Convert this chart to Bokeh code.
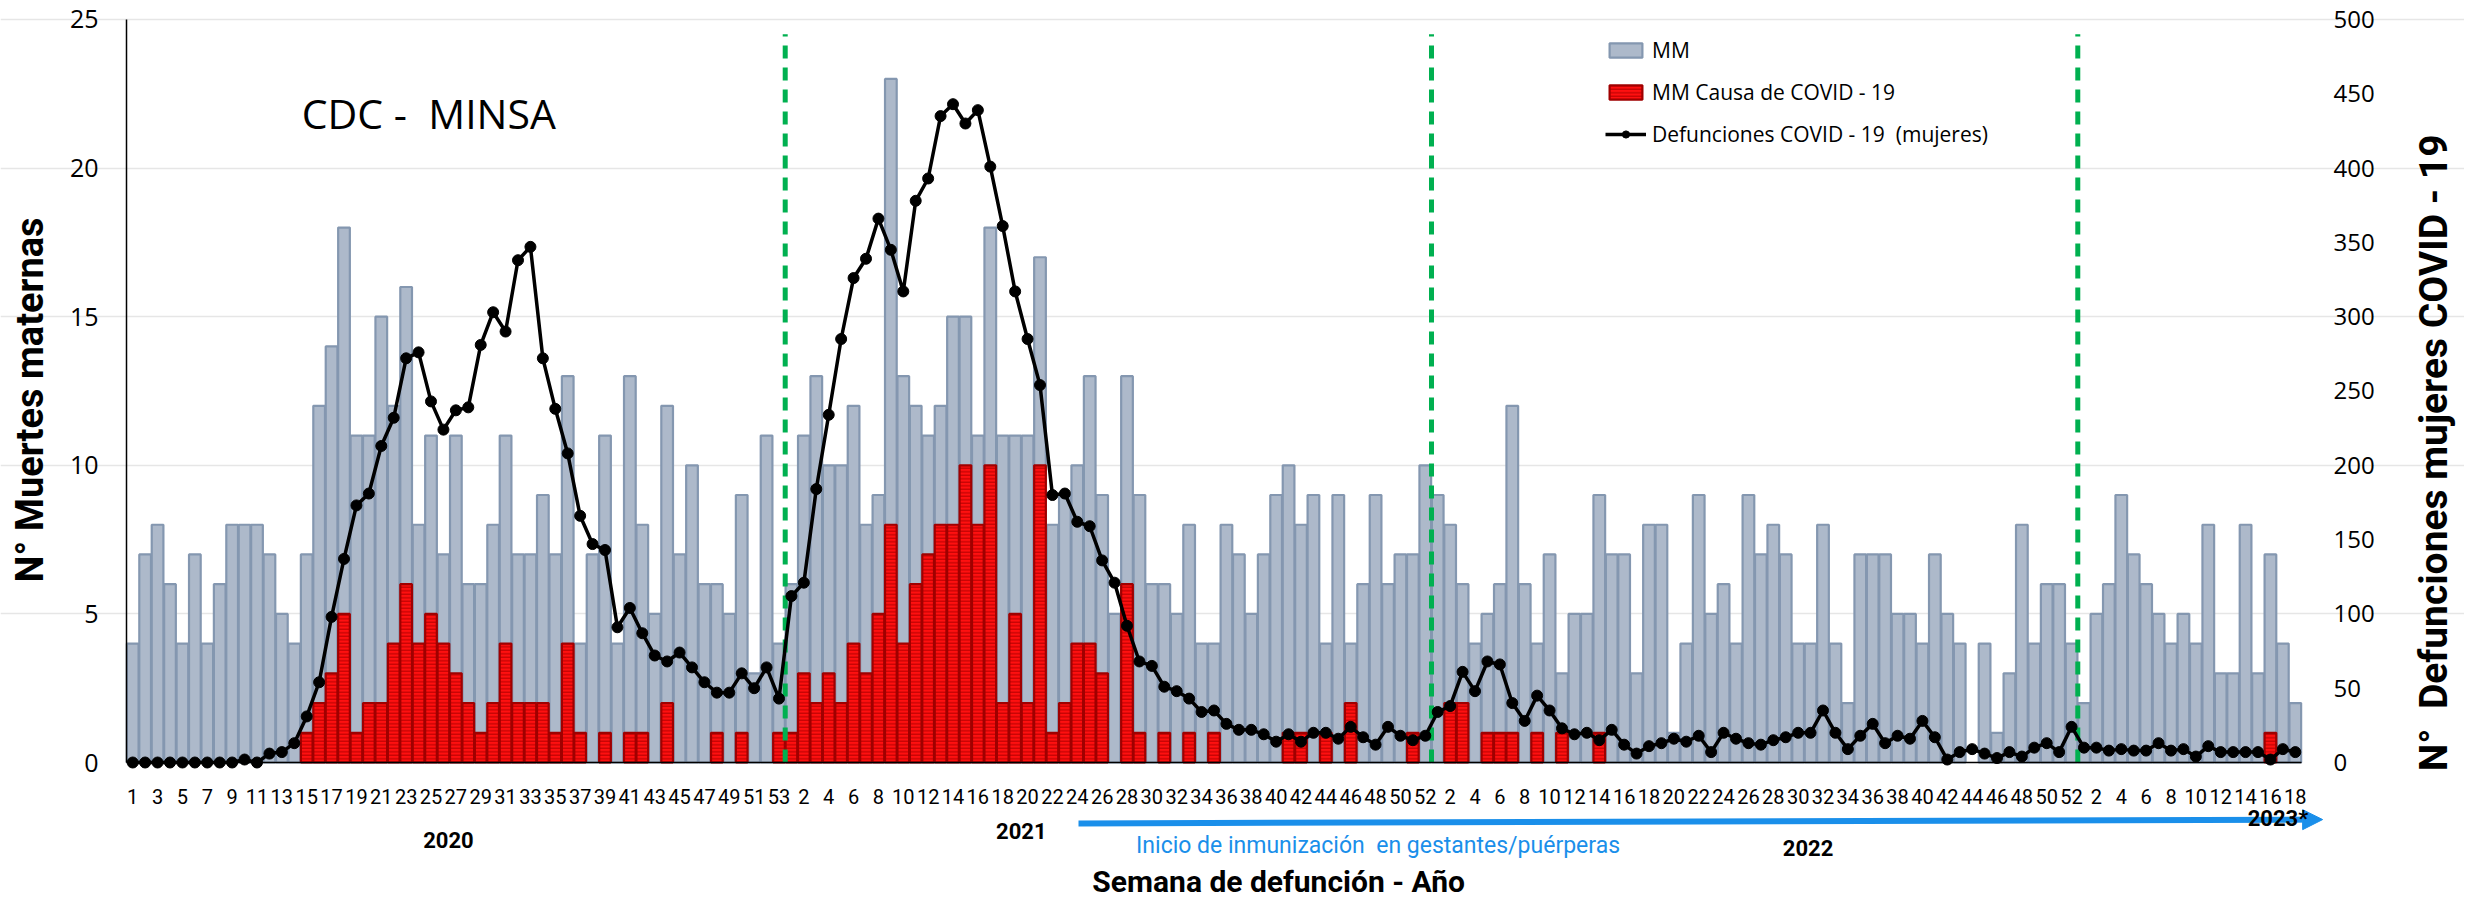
import math
from bokeh.plotting import figure
from bokeh.models import (Range1d, LinearAxis, FixedTicker, Legend, LegendItem,
                          Label, Arrow, NormalHead, ColumnDataSource)
from bokeh.embed import file_html
from bokeh.resources import INLINE

# ---------------- data ----------------
years = ["2020", "2021", "2022", "2023*"]
weeks_per_year = [53, 52, 52, 18]

mm_2020 = [4, 7, 8, 6, 4, 7, 4, 6, 8, 8,
           8, 7, 5, 4, 7, 12, 14, 18, 11, 11,
           15, 12, 16, 8, 11, 7, 11, 6, 6, 8,
           11, 7, 7, 9, 7, 13, 4, 7, 11, 4,
           13, 8, 5, 12, 7, 10, 6, 6, 5, 9,
           3, 11, 4]
mm_2021 = [6, 11, 13, 10, 10, 12, 8, 9, 23, 13,
           12, 11, 12, 15, 15, 11, 18, 11, 11, 11,
           17, 8, 9, 10, 13, 9, 5, 13, 9, 6,
           6, 5, 8, 4, 4, 8, 7, 5, 7, 9,
           10, 8, 9, 4, 9, 4, 6, 9, 6, 7,
           7, 10]
mm_2022 = [9, 8, 6, 4, 5, 6, 12, 6, 4, 7,
           3, 5, 5, 9, 7, 7, 3, 8, 8, 1,
           4, 9, 5, 6, 4, 9, 7, 8, 7, 4,
           4, 8, 4, 2, 7, 7, 7, 5, 5, 4,
           7, 5, 4, 0, 4, 1, 3, 8, 4, 6,
           6, 4]
mm_2023 = [2, 5, 6, 9, 7, 6, 5, 4, 5, 4, 8, 3, 3, 8, 3, 7, 4, 2]

covid_2020 = [0, 0, 0, 0, 0, 0, 0, 0, 0, 0,
              0, 0, 0, 0, 1, 2, 3, 5, 1, 2,
              2, 4, 6, 4, 5, 4, 3, 2, 1, 2,
              4, 2, 2, 2, 1, 4, 1, 0, 1, 0,
              1, 1, 0, 2, 0, 0, 0, 1, 0, 1,
              0, 0, 1]
covid_2021 = [1, 3, 2, 3, 2, 4, 3, 5, 8, 4,
              6, 7, 8, 8, 10, 8, 10, 2, 5, 2,
              10, 1, 2, 4, 4, 3, 0, 6, 1, 0,
              1, 0, 1, 0, 1, 0, 0, 0, 0, 0,
              1, 1, 0, 1, 0, 2, 0, 0, 0, 0,
              1, 0]
covid_2022 = [0, 2, 2, 0, 1, 1, 1, 0, 1, 0,
              1, 0, 0, 1, 0, 0, 0, 0, 0, 0,
              0, 0, 0, 0, 0, 0, 0, 0, 0, 0,
              0, 0, 0, 0, 0, 0, 0, 0, 0, 0,
              0, 0, 0, 0, 0, 0, 0, 0, 0, 0,
              0, 0]
covid_2023 = [0, 0, 0, 0, 0, 0, 0, 0, 0, 0, 0, 0, 0, 0, 0, 1, 0, 0]

deaths_2020 = [0, 0, 0, 0, 0, 0, 0, 0, 0, 2,
               0, 6, 7, 13, 31, 54, 98, 137, 173, 181,
               213, 232, 272, 276, 243, 224, 237, 239, 281, 303,
               290, 338, 347, 272, 238, 208, 166, 147, 143, 91,
               104, 87, 72, 68, 74, 64, 54, 47, 47, 60,
               50, 64, 43]
deaths_2021 = [112, 121, 184, 234, 285, 326, 339, 366, 345, 317,
               378, 393, 435, 443, 430, 439, 401, 361, 317, 285,
               254, 180, 181, 162, 159, 136, 121, 92, 68, 65,
               51, 48, 43, 34, 35, 26, 22, 22, 19, 14,
               19, 14, 20, 20, 16, 24, 17, 12, 24, 18,
               15, 18]
deaths_2022 = [34, 38, 61, 48, 68, 66, 40, 28, 45, 35,
               23, 19, 20, 15, 22, 12, 6, 11, 13, 16,
               14, 18, 7, 20, 16, 13, 12, 15, 17, 20,
               20, 35, 20, 9, 18, 26, 13, 18, 16, 28,
               17, 2, 7, 9, 6, 3, 7, 4, 10, 13,
               7, 24]
deaths_2023 = [10, 10, 8, 9, 8, 8, 13, 8, 9, 4, 11, 7, 7, 7, 7, 2, 9, 7]

left_ticks = [0, 5, 10, 15, 20, 25]
right_ticks = [0, 50, 100, 150, 200, 250, 300, 350, 400, 450, 500]

# ---------------- assemble ----------------
mm = mm_2020 + mm_2021 + mm_2022 + mm_2023
covid = covid_2020 + covid_2021 + covid_2022 + covid_2023
deaths = deaths_2020 + deaths_2021 + deaths_2022 + deaths_2023
week_labels = [str(w) for n in weeks_per_year for w in range(1, n + 1)]
xs = list(range(1, len(mm) + 1))
n = len(xs)

src_mm = ColumnDataSource(dict(x=[x for x, v in zip(xs, mm) if v > 0],
                               top=[v for v in mm if v > 0]))
src_cv = ColumnDataSource(dict(x=[x for x, v in zip(xs, covid) if v > 0],
                               top=[v for v in covid if v > 0]))
src_d = ColumnDataSource(dict(x=xs, y=deaths))

bounds = []
acc = 0
for w in weeks_per_year[:-1]:
    acc += w
    bounds.append(acc + 0.5)

FONT_NUM = "Open Sans"
FONT_COND = "Roboto"

# the frame covers the whole canvas; the chart area is x 0.5..n+0.5, y 0..25
W, H = 2464, 900
X_LO, X_HI = -9.638, 188.615
Y_LO, Y_HI = -4.643, 25.639
RIGHT_SCALE = 20.0

p = figure(width=W, height=H, output_backend="svg", toolbar_location=None,
           x_range=Range1d(X_LO, X_HI), y_range=Range1d(Y_LO, Y_HI),
           min_border=0)
p.outline_line_color = None
p.background_fill_color = "white"
p.extra_y_ranges = {"right": Range1d(Y_LO * RIGHT_SCALE, Y_HI * RIGHT_SCALE)}

# bars
r_mm = p.vbar(x="x", top="top", bottom=0, width=0.94, source=src_mm,
              fill_color="#ADB9CA", line_color="#8497B0", line_width=2.2)
r_cv = p.vbar(x="x", top="top", bottom=0, width=0.94, source=src_cv,
              fill_color="#FF1010", line_color="#A00000", line_width=2.2,
              hatch_pattern="horizontal_line", hatch_color="#B00000",
              hatch_scale=3.5, hatch_weight=1.0)

# green dashed year separators
p.segment(x0=bounds, y0=[0] * len(bounds), x1=bounds, y1=[24.5] * len(bounds),
          line_color="#00B050", line_width=5, line_dash="13 9")

# deaths line
r_line = p.line(x="x", y="y", source=src_d, y_range_name="right",
                line_color="black", line_width=3.5)
r_pts = p.scatter(x="x", y="y", source=src_d, y_range_name="right",
                  size=11, fill_color="black", line_color="black")

# axes (fixed inside the frame)
xa = p.xaxis[0]
xa.fixed_location = 0
xa.bounds = (0.5, n + 0.5)
xa.ticker = FixedTicker(ticks=[x for x in xs if x % 2 == 1])
xa.major_label_overrides = {x: week_labels[x - 1] for x in xs if x % 2 == 1}
xa.major_label_text_font = FONT_COND
xa.major_label_text_font_size = "20px"
xa.major_label_text_color = "black"
xa.major_label_standoff = 20
xa.major_tick_line_color = None
xa.minor_tick_line_color = None
xa.axis_line_color = "black"
xa.axis_line_width = 1.5

ya = p.yaxis[0]
ya.fixed_location = 0.5
ya.bounds = (0, 25)
ya.ticker = FixedTicker(ticks=left_ticks)
ya.major_label_text_font = FONT_NUM
ya.major_label_text_font_size = "25px"
ya.major_label_text_color = "black"
ya.major_label_standoff = 22
ya.major_tick_line_color = None
ya.minor_tick_line_color = None
ya.axis_line_color = "black"
ya.axis_line_width = 1.5

ax_r = LinearAxis(y_range_name="right", ticker=FixedTicker(ticks=right_ticks),
                  fixed_location=n + 0.5, bounds=(0, 500))
ax_r.major_label_text_font = FONT_NUM
ax_r.major_label_text_font_size = "24px"
ax_r.major_label_text_color = "black"
ax_r.major_label_standoff = 26
ax_r.major_tick_line_color = None
ax_r.minor_tick_line_color = None
ax_r.axis_line_color = None
p.add_layout(ax_r, "right")

p.xgrid.grid_line_color = None
p.ygrid.grid_line_color = "#E6E6E6"
p.ygrid.grid_line_width = 1.5
p.ygrid.ticker = FixedTicker(ticks=left_ticks[1:])
p.ygrid.bounds = (0.5, n + 0.5)

# legend
legend = Legend(items=[
    LegendItem(label="MM", renderers=[r_mm]),
    LegendItem(label="MM Causa de COVID - 19", renderers=[r_cv]),
    LegendItem(label="Defunciones COVID - 19\u00a0 (mujeres)", renderers=[r_line, r_pts]),
], location=(1605, 752))
legend.label_text_font = FONT_NUM
legend.label_text_font_size = "21px"
legend.label_text_color = "black"
legend.glyph_width = 41
legend.glyph_height = 18
legend.label_height = 22
legend.spacing = 14
legend.padding = 4
legend.label_standoff = 6
legend.border_line_color = None
legend.background_fill_alpha = 0
p.add_layout(legend, "center")

# text annotations
def lab(text, x, y, size, font=FONT_COND, bold=True, color="black", angle=0,
        align="center", baseline="middle"):
    p.add_layout(Label(x=x, y=y, text=text, text_font=font,
                       text_font_size=size, text_font_style="bold" if bold else "normal",
                       text_color=color, angle=angle, text_align=align,
                       text_baseline=baseline))

blue = "#1A8FEA"
p.add_layout(Arrow(end=NormalHead(size=20, fill_color=blue, line_color=blue),
                   x_start=77.1, y_start=-2.05, x_end=177.2, y_end=-1.92,
                   line_color=blue, line_width=6))

lab("CDC -\u00a0 MINSA", 14.6, 21.85, "41px", font=FONT_NUM, bold=False, align="left")
lab(years[0], 26.4, -2.6, "22px")
lab(years[1], 72.5, -2.3, "22px")
lab(years[2], 135.8, -2.86, "22px")
lab(years[3], 173.6, -1.9, "22px")
lab("Inicio de inmunización\u00a0 en gestantes/puérperas", 101.2, -2.8, "23px",
    color=blue, bold=False)
lab("Semana de defunción - Año", 93.2, -4.0, "30px")
lab("N° Muertes maternas", -7.3, 12.2, "38px", angle=math.pi / 2)
lab("N°\u00a0 Defunciones mujeres COVID - 19", 186.2, 10.42, "39px", angle=math.pi / 2)

open("out.html", "w").write(file_html(p, INLINE))
